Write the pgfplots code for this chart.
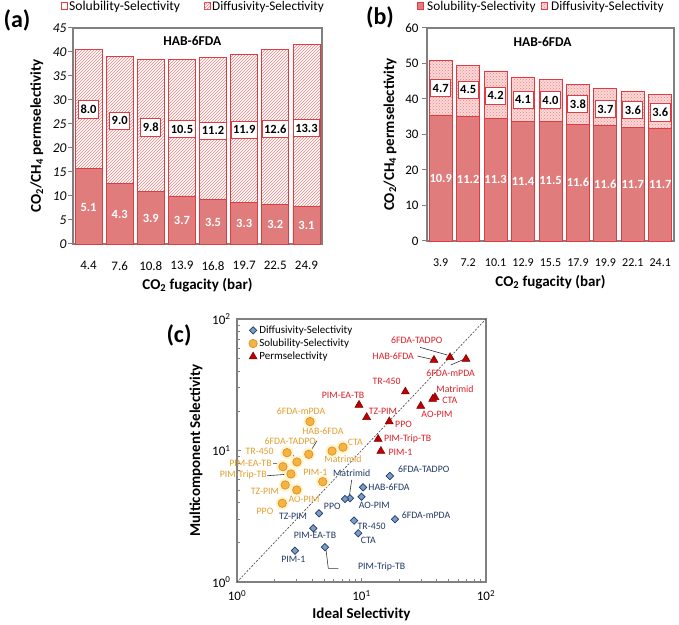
\documentclass[border=0pt]{standalone}
\usepackage{fontspec}
\setmainfont{Carlito}
\usepackage{pgfplots}
\pgfplotsset{compat=1.18}
\usetikzlibrary{patterns}
\definecolor{salmon}{RGB}{224,124,124}
\definecolor{barred}{RGB}{222,60,66}
\definecolor{hatchred}{RGB}{238,130,130}
\definecolor{pinkfill}{RGB}{250,216,216}
\definecolor{framegray}{RGB}{128,128,128}
\definecolor{tred}{RGB}{222,30,38}
\definecolor{torange}{RGB}{226,158,46}
\definecolor{tblue}{RGB}{31,56,100}
\definecolor{dfill}{RGB}{124,156,203}
\definecolor{ofill}{RGB}{243,180,66}
\definecolor{oedge}{RGB}{226,140,40}
\definecolor{glow}{RGB}{255,245,205}
\definecolor{tfill}{RGB}{192,0,0}
\definecolor{tedge}{RGB}{120,0,0}
\newcommand{\fs}[1]{\fontsize{#1}{#1}\selectfont}
\tikzset{
  boxlab/.style={draw=barred, line width=1pt, fill=white, font=\fs{12.5}\bfseries, inner xsep=2pt, inner ysep=4.3pt},
  whitelab/.style={text=white, font=\fs{12.5}\bfseries},
  legtext/.style={anchor=base west, inner sep=0pt},
  legbox/.style={draw=barred, line width=0.8pt, minimum width=6pt, minimum height=6.6pt, inner sep=0pt},
}
\pgfplotsset{
  barax/.style={scale only axis, clip=false,
    xtick style={draw=none}, ytick pos=left, tick align=outside,
    major tick length=5pt,
    ytick style={framegray, line width=1pt},
    axis line style={framegray, line width=1.3pt},
    /pgf/number format/assume math mode=true,
  },
}
\begin{document}
\begin{tikzpicture}
\useasboundingbox (0pt,0pt) rectangle (679pt,624pt);

% ---------------- (a)
\begin{axis}[barax,
  at={(73pt,380pt)}, anchor=south west, width=249pt, height=216pt,
  xmin=-0.5, xmax=7.5, ymin=0, ymax=45, ytick={0,5,...,45},
  xtick={0,...,7}, xticklabels={4.4,7.6,10.8,13.9,16.8,19.7,22.5,24.9},
  yticklabel style={font=\fs{13.5}\itshape, xshift=2pt},
  xticklabel style={font=\fs{13}, yshift=-9pt},
  xlabel={\textbf{CO\textsubscript{2} fugacity (bar)}},
  ylabel={\textbf{CO\textsubscript{2}/CH\textsubscript{4} permselectivity}},
  xlabel style={font=\fs{15}, at={(axis description cs:0.5,-0.19)}, anchor=center},
  ylabel style={font=\fs{15}, at={(axis description cs:-0.145,0.5)}, anchor=center},
]
\addplot[ybar, bar width=27pt, bar shift=0pt, draw=barred, line width=0.8pt, fill=white,
  postaction={pattern=north east lines, pattern color=hatchred}]
  coordinates {(0,40.5) (1,39.0) (2,38.4) (3,38.4) (4,38.9) (5,39.5) (6,40.5) (7,41.5)};
\addplot[ybar, bar width=27pt, bar shift=0pt, draw=barred, line width=0.8pt, fill=salmon]
  coordinates {(0,15.7) (1,12.7) (2,11.0) (3,10.0) (4,9.2) (5,8.6) (6,8.2) (7,7.8)};
\node[boxlab] at (axis cs:0,28.0) {8.0};
\node[boxlab] at (axis cs:1,25.7) {9.0};
\node[boxlab] at (axis cs:2,24.3) {9.8};
\node[boxlab] at (axis cs:3,23.9) {10.5};
\node[boxlab] at (axis cs:4,23.6) {11.2};
\node[boxlab] at (axis cs:5,23.8) {11.9};
\node[boxlab] at (axis cs:6,24.0) {12.6};
\node[boxlab] at (axis cs:7,24.1) {13.3};
\node[whitelab] at (axis cs:0,7.7) {5.1};
\node[whitelab] at (axis cs:1,6.2) {4.3};
\node[whitelab] at (axis cs:2,5.4) {3.9};
\node[whitelab] at (axis cs:3,4.9) {3.7};
\node[whitelab] at (axis cs:4,4.5) {3.5};
\node[whitelab] at (axis cs:5,4.2) {3.3};
\node[whitelab] at (axis cs:6,4.0) {3.2};
\node[whitelab] at (axis cs:7,3.8) {3.1};
\node[font=\fs{13.5}\bfseries] at (axis description cs:0.479,0.941) {HAB-6FDA};
\end{axis}
% legend (a)
\node[legbox, fill=white] at (64pt,618pt) {};
\node[legtext, font=\fs{13.6}] at (69pt,613.5pt) {Solubility-Selectivity};
\node[legbox, fill=white, postaction={pattern=north east lines, pattern color=hatchred}] at (207pt,618pt) {};
\node[legtext, font=\fs{13.2}] at (212pt,613.5pt) {Diffusivity-Selectivity};

% ---------------- (b)
\begin{axis}[barax,
  at={(427pt,383pt)}, anchor=south west, width=247pt, height=213pt,
  xmin=-0.5, xmax=8.5, ymin=0, ymax=60, ytick={0,10,...,60},
  xtick={0,...,8}, xticklabels={3.9,7.2,10.1,12.9,15.5,17.9,19.9,22.1,24.1},
  yticklabel style={font=\fs{13}},
  xticklabel style={font=\fs{12}, yshift=-9pt},
  xlabel={\textbf{CO\textsubscript{2} fugacity (bar)}},
  ylabel={\textbf{CO\textsubscript{2}/CH\textsubscript{4} permselectivity}},
  xlabel style={font=\fs{15}, at={(axis description cs:0.5,-0.192)}, anchor=center},
  ylabel style={font=\fs{15}, at={(axis description cs:-0.15,0.5)}, anchor=center},
]
\addplot[ybar, bar width=23pt, bar shift=0pt, draw=barred, line width=0.8pt, fill=pinkfill,
  postaction={pattern=crosshatch dots, pattern color=hatchred}]
  coordinates {(0,50.9) (1,49.5) (2,47.9) (3,46.2) (4,45.5) (5,44.2) (6,43.1) (7,42.2) (8,41.4)};
\addplot[ybar, bar width=23pt, bar shift=0pt, draw=barred, line width=0.8pt, fill=salmon]
  coordinates {(0,35.5) (1,35.2) (2,34.6) (3,33.8) (4,33.6) (5,32.9) (6,32.5) (7,32.0) (8,31.6)};
\node[boxlab] at (axis cs:0,43.1) {4.7};
\node[boxlab] at (axis cs:1,42.6) {4.5};
\node[boxlab] at (axis cs:2,40.9) {4.2};
\node[boxlab] at (axis cs:3,39.8) {4.1};
\node[boxlab] at (axis cs:4,39.6) {4.0};
\node[boxlab] at (axis cs:5,38.6) {3.8};
\node[boxlab] at (axis cs:6,37.1) {3.7};
\node[boxlab] at (axis cs:7,36.9) {3.6};
\node[boxlab] at (axis cs:8,36.2) {3.6};
\node[whitelab] at (axis cs:0,17.6) {10.9};
\node[whitelab] at (axis cs:1,17.3) {11.2};
\node[whitelab] at (axis cs:2,17.3) {11.3};
\node[whitelab] at (axis cs:3,16.8) {11.4};
\node[whitelab] at (axis cs:4,17.0) {11.5};
\node[whitelab] at (axis cs:5,16.4) {11.6};
\node[whitelab] at (axis cs:6,16.0) {11.6};
\node[whitelab] at (axis cs:7,16.0) {11.7};
\node[whitelab] at (axis cs:8,15.8) {11.7};
\node[font=\fs{13.5}\bfseries] at (axis description cs:0.468,0.933) {HAB-6FDA};
\end{axis}
% legend (b)
\node[legbox, fill=salmon] at (420pt,618pt) {};
\node[legtext, font=\fs{13.3}] at (427pt,613.5pt) {Solubility-Selectivity};
\node[legbox, fill=pinkfill, postaction={pattern=crosshatch dots, pattern color=hatchred}] at (544pt,618pt) {};
\node[legtext, font=\fs{13.3}] at (551pt,613.5pt) {Diffusivity-Selectivity};

% ---------------- (c)
\begin{axis}[scale only axis, clip=false,
  at={(237pt,42pt)}, anchor=south west, width=249pt, height=263pt,
  xmode=log, ymode=log, xmin=1, xmax=100, ymin=1, ymax=100,
  xtick={1,10,100}, ytick={1,10,100},
  xticklabels={10\textsuperscript{0},10\textsuperscript{1},10\textsuperscript{2}},
  yticklabels={10\textsuperscript{0},10\textsuperscript{1},10\textsuperscript{2}},
  xtick pos=bottom, ytick pos=left, tick align=inside,
  axis line style={framegray, line width=1.2pt},
  tick style={framegray, line width=0.8pt},
  major tick length=4pt, minor tick length=3pt,
  ticklabel style={font=\fs{13}},
  xticklabel style={yshift=-5pt},
  yticklabel style={xshift=-3pt},
  xlabel={\textbf{Ideal Selectivity}},
  ylabel={\textbf{Multicomponent Selectivity}},
  xlabel style={font=\fs{15}, at={(axis description cs:0.5,-0.125)}, anchor=center},
  ylabel style={font=\fs{15}, at={(axis description cs:-0.165,0.5)}, anchor=center},
  legend style={at={(axis description cs:0.035,0.99)}, anchor=north west, draw=none, fill=none,
    font=\fs{11}, row sep=0pt},
  legend cell align=left,
  legend image code/.code={\draw[#1] plot coordinates {(4pt,0pt)};},
]
% diagonal
\addplot[dashed, dash pattern=on 2pt off 1.5pt, black!75, line width=0.6pt, forget plot] coordinates {(1,1) (100,100)};
% glow behind solubility points
\addplot[only marks, mark=*, mark size=6.5pt, mark options={draw=glow, fill=glow}, forget plot] coordinates {
 (3.86,16.6) (3.77,9.36) (7.10,10.6) (5.80,9.90) (2.52,9.62) (3.03,8.18)
 (2.34,7.53) (2.71,6.63) (4.88,5.79) (2.44,5.47) (3.02,5.01) (2.31,3.97)};
% leader lines
\addplot[black!80, line width=0.6pt, forget plot] coordinates {(2.59,10.6) (3.03,8.18)};
\addplot[black!80, line width=0.6pt, forget plot] coordinates {(4.39,11.88) (3.77,9.36)};
\addplot[black!80, line width=0.6pt, forget plot] coordinates {(1.95,7.99) (2.22,7.96) (2.34,7.53)};
\addplot[black!80, line width=0.6pt, forget plot] coordinates {(1.75,6.43) (2.71,6.63)};
\addplot[black!80, line width=0.6pt, forget plot] coordinates {(29.5,60.9) (48.9,53.2)};
\addplot[black!80, line width=0.6pt, forget plot] coordinates {(28.1,52.3) (36.6,49.4)};
\addplot[black!80, line width=0.6pt, forget plot] coordinates {(52.1,44.7) (66.6,49.4)};
\addplot[black!80, line width=0.6pt, forget plot] coordinates {(8.34,5.97) (7.98,4.45)};
\addplot[black!80, line width=0.6pt, forget plot] coordinates {(5.19,1.75) (5.41,1.27) (6.51,1.27)};
% diffusivity
\addplot[only marks, mark=square*, mark size=2.6pt, mark options={rotate=45, draw=tblue, fill=dfill, line width=0.7pt}] coordinates {
 (16.9,6.40) (10.3,5.25) (10.0,4.45) (8.08,4.33) (7.37,4.28) (4.56,3.33)
 (8.71,2.93) (18.6,3.00) (4.10,2.56) (9.42,2.35) (2.92,1.73) (5.09,1.84)};
\addlegendentry{Diffusivity-Selectivity}
% solubility
\addplot[only marks, mark=*, mark size=4.2pt, mark options={draw=oedge, fill=ofill, line width=0.7pt}] coordinates {
 (3.86,16.6) (3.77,9.36) (7.10,10.6) (5.80,9.90) (2.52,9.62) (3.03,8.18)
 (2.34,7.53) (2.71,6.63) (4.88,5.79) (2.44,5.47) (3.02,5.01) (2.31,3.97)};
\addlegendentry{Solubility-Selectivity}
% permselectivity
\addplot[only marks, mark=triangle*, mark size=4.6pt, mark options={draw=tedge, fill=tfill, line width=0.5pt}] coordinates {
 (9.55,22.2) (22.5,28.0) (11.0,17.9) (16.7,16.6) (13.6,12.2) (14.3,9.9)
 (29.9,21.8) (38.9,25.4) (37.3,24.6) (38.2,48.8) (51.4,51.1) (69.1,49.6)};
\addlegendentry{Permselectivity}
% red labels
\begin{scope}[every node/.style={font=\fs{9.8}, text=tred, inner sep=0pt}]
\node at (axis description cs:0.4257,0.711) {PIM-EA-TB};
\node at (axis description cs:0.601,0.7616) {TR-450};
\node at (axis description cs:0.586,0.6475) {TZ-PIM};
\node at (axis description cs:0.6687,0.599) {PPO};
\node[anchor=west] at (axis description cs:0.590,0.5426) {PIM-Trip-TB};
\node[anchor=west] at (axis description cs:0.6076,0.4916) {PIM-1};
\node at (axis description cs:0.803,0.639) {AO-PIM};
\node at (axis description cs:0.8755,0.734) {Matrimid};
\node at (axis description cs:0.855,0.692) {CTA};
\node at (axis description cs:0.6277,0.8574) {HAB-6FDA};
\node at (axis description cs:0.7217,0.920) {6FDA-TADPO};
\node at (axis description cs:0.858,0.7935) {6FDA-mPDA};
\end{scope}
% orange labels
\begin{scope}[every node/.style={font=\fs{9.8}, text=torange, inner sep=0pt}]
\node at (axis description cs:0.257,0.6475) {6FDA-mPDA};
\node at (axis description cs:0.345,0.5715) {HAB-6FDA};
\node at (axis description cs:0.214,0.536) {6FDA-TADPO};
\node at (axis description cs:0.091,0.498) {TR-450};
\node at (axis description cs:0.475,0.5297) {CTA};
\node at (axis description cs:0.4257,0.4665) {Matrimid};
\node at (axis description cs:0.054,0.4525) {PIM-EA-TB};
\node at (axis description cs:0.0253,0.4057) {PIM-Trip-TB};
\node at (axis description cs:0.3145,0.4156) {PIM-1};
\node at (axis description cs:0.1124,0.3433) {TZ-PIM};
\node at (axis description cs:0.269,0.3145) {AO-PIM};
\node at (axis description cs:0.1124,0.27) {PPO};
\end{scope}
% blue labels
\begin{scope}[every node/.style={font=\fs{9.8}, text=tblue, inner sep=0pt}]
\node at (axis description cs:0.7498,0.4285) {6FDA-TADPO};
\node at (axis description cs:0.6104,0.360) {HAB-6FDA};
\node at (axis description cs:0.4606,0.4133) {Matrimid};
\node at (axis description cs:0.5514,0.2928) {AO-PIM};
\node at (axis description cs:0.3827,0.289) {PPO};
\node at (axis description cs:0.225,0.248) {TZ-PIM};
\node at (axis description cs:0.759,0.2548) {6FDA-mPDA};
\node at (axis description cs:0.541,0.213) {TR-450};
\node at (axis description cs:0.313,0.1787) {PIM-EA-TB};
\node at (axis description cs:0.527,0.1597) {CTA};
\node at (axis description cs:0.226,0.0863) {PIM-1};
\node at (axis description cs:0.581,0.0559) {PIM-Trip-TB};
\end{scope}
\end{axis}

\node[font=\fs{24}\bfseries] at (17pt,604pt) {(a)};
\node[font=\fs{24}\bfseries] at (380pt,607pt) {(b)};
\node[font=\fs{24}\bfseries] at (179pt,289pt) {(c)};
\end{tikzpicture}
\end{document}
